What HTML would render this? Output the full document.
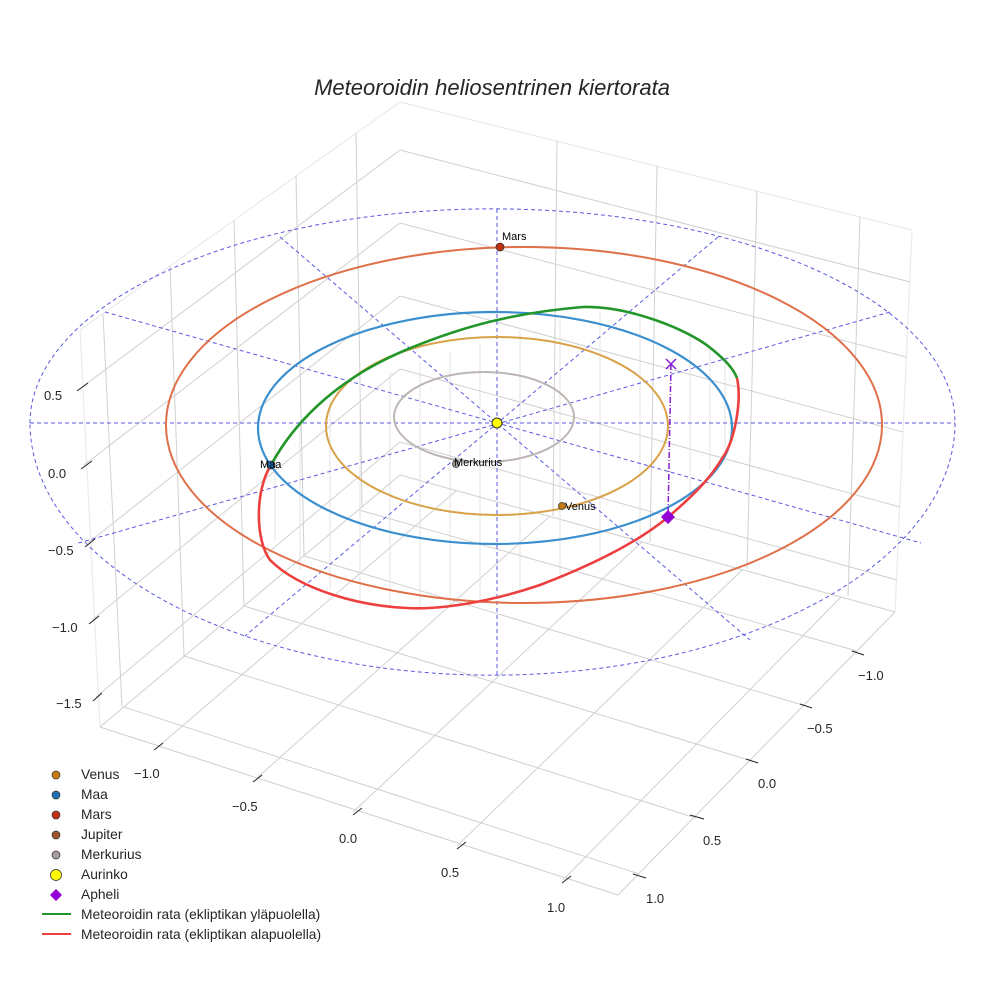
<!DOCTYPE html>
<html><head><meta charset="utf-8"><style>
html,body{margin:0;padding:0;background:#fff;}
svg{display:block;font-family:"Liberation Sans",sans-serif;}
</style></head><body>
<svg width="984" height="984" viewBox="0 0 984 984" xmlns="http://www.w3.org/2000/svg">
<rect width="984" height="984" fill="#fff"/>
<text x="492" y="95" text-anchor="middle" font-size="22" font-style="italic" fill="#262626">Meteoroidin heliosentrinen kiertorata</text>

<!-- pane edges -->
<g stroke="#ebebeb" stroke-width="1.2" fill="none">
<line x1="400" y1="102" x2="80" y2="330"/>
<line x1="400" y1="102" x2="912" y2="230"/>
<line x1="80" y1="330" x2="100" y2="727"/>
<line x1="912" y1="230" x2="895" y2="612"/>
</g>
<g stroke="#d2d2d2" stroke-width="1.1" fill="none">
<line x1="400" y1="475" x2="100" y2="727"/>
<line x1="400" y1="475" x2="895" y2="612"/>
<line x1="100" y1="727" x2="618" y2="895"/>
<line x1="618" y1="895" x2="895" y2="612"/>
</g>
<g stroke="#d0d0d0" stroke-width="1" fill="none">
<line x1="400" y1="150" x2="82" y2="387"/>
<line x1="400" y1="223" x2="84" y2="465"/>
<line x1="400" y1="296" x2="88" y2="543"/>
<line x1="400" y1="369" x2="92" y2="620"/>
<line x1="400" y1="442" x2="96" y2="697"/>
<line x1="400" y1="150" x2="910" y2="282"/>
<line x1="400" y1="223" x2="906" y2="357"/>
<line x1="400" y1="296" x2="903" y2="432"/>
<line x1="400" y1="369" x2="900" y2="507"/>
<line x1="400" y1="442" x2="897" y2="580"/>
<line x1="356" y1="134" x2="362" y2="507"/>
<line x1="296" y1="176" x2="304" y2="556"/>
<line x1="234" y1="220" x2="244" y2="606"/>
<line x1="170" y1="266" x2="184" y2="656"/>
<line x1="103" y1="314" x2="122" y2="707"/>
<line x1="557" y1="141" x2="553" y2="516"/>
<line x1="657" y1="166" x2="650" y2="542"/>
<line x1="757" y1="191" x2="747" y2="569"/>
<line x1="860" y1="217" x2="848" y2="596"/>
<line x1="159" y1="746" x2="456" y2="491"/>
<line x1="257" y1="778" x2="550" y2="516"/>
<line x1="353" y1="812" x2="642" y2="542"/>
<line x1="457" y1="846" x2="742" y2="570"/>
<line x1="563" y1="880" x2="841" y2="597"/>
<line x1="857" y1="651" x2="359" y2="510"/>
<line x1="806" y1="706" x2="304" y2="556"/>
<line x1="752" y1="761" x2="244" y2="606"/>
<line x1="696" y1="818" x2="184" y2="656"/>
<line x1="639" y1="874" x2="124" y2="707"/>
</g>

<g stroke="#dcdcdc" stroke-width="0.8">
<line x1="275" y1="440" x2="275" y2="540"/><line x1="300" y1="420" x2="300" y2="570"/>
<line x1="330" y1="400" x2="330" y2="590"/><line x1="360" y1="385" x2="360" y2="600"/>
<line x1="390" y1="372" x2="390" y2="606"/><line x1="420" y1="362" x2="420" y2="608"/>
<line x1="450" y1="352" x2="450" y2="606"/><line x1="480" y1="345" x2="480" y2="600"/>
<line x1="520" y1="330" x2="520" y2="592"/><line x1="560" y1="320" x2="560" y2="580"/>
<line x1="600" y1="312" x2="600" y2="562"/><line x1="640" y1="318" x2="640" y2="540"/>
<line x1="690" y1="336" x2="690" y2="495"/><line x1="710" y1="348" x2="710" y2="470"/>
<line x1="725" y1="360" x2="725" y2="450"/>
</g>

<g stroke="#5a5ae0" stroke-width="1" stroke-dasharray="4,3" fill="none">
<path d="M30 423 A462 214 0 0 1 955 423 A462 252 0 0 1 30 423"/>
<line x1="30" y1="423" x2="955" y2="423"/>
<line x1="497" y1="209" x2="497" y2="675"/>
<line x1="105" y1="312" x2="921" y2="543"/>
<line x1="890" y1="312" x2="75" y2="544"/>
<line x1="280" y1="237" x2="750" y2="640"/>
<line x1="718" y1="237" x2="245" y2="636"/>
</g>

<ellipse cx="484" cy="417" rx="90" ry="45" fill="none" stroke="#bdb6b2" stroke-width="2"/>
<ellipse cx="497" cy="426" rx="171" ry="89" fill="none" stroke="#d9a24a" stroke-width="2"/>
<ellipse cx="495" cy="428" rx="237" ry="116" fill="none" stroke="#3b8fcf" stroke-width="2.2"/>
<ellipse cx="524" cy="425" rx="358" ry="178" fill="none" stroke="#df7049" stroke-width="2"/>

<path d="M271 465 C290 430 330 380 413 347 C460 328 510 313 583 307 C630 306 690 330 713 350 C725 360 733 368 737 378" fill="none" stroke="#23962b" stroke-width="2.6"/>
<path d="M737 378 C742 400 735 440 723 457 C712 475 700 490 667 518 C640 540 600 562 540 585 C490 602 440 610 407 608 C360 606 300 590 270 560 C255 540 255 490 271 465" fill="none" stroke="#ee3f3f" stroke-width="2.6"/>

<line x1="671" y1="364" x2="668" y2="517" stroke="#8a1ed0" stroke-width="1.5" stroke-dasharray="6,2,1,2"/>
<path d="M666 359 l10 10 M676 359 l-10 10" stroke="#8a1ed0" stroke-width="1.5"/>
<path d="M668 510 l7 7 l-7 7 l-7 -7z" fill="#9400d3"/>

<circle cx="497" cy="423" r="5" fill="#ffff00" stroke="#333" stroke-width="1"/>
<circle cx="500" cy="247" r="4" fill="#c1300f" stroke="#333" stroke-width="0.8"/>
<text x="502" y="240" font-size="11">Mars</text>
<circle cx="271" cy="465" r="4" fill="#1f6fb4" stroke="#333" stroke-width="0.8"/>
<text x="260" y="468" font-size="11">Maa</text>
<circle cx="456" cy="464" r="3.5" fill="#a89f9a" stroke="#333" stroke-width="0.8"/>
<text x="454" y="466" font-size="11">Merkurius</text>
<circle cx="562" cy="506" r="3.5" fill="#c77a10" stroke="#333" stroke-width="0.8"/>
<text x="565" y="510" font-size="11">Venus</text>

<g stroke="#222" stroke-width="1">
<line x1="77" y1="391" x2="88" y2="383"/><line x1="81" y1="469" x2="92" y2="461"/>
<line x1="85" y1="547" x2="95" y2="539"/><line x1="89" y1="624" x2="99" y2="616"/>
<line x1="93" y1="701" x2="102" y2="693"/>
<line x1="154" y1="750" x2="163" y2="743"/><line x1="253" y1="782" x2="262" y2="775"/>
<line x1="353" y1="815" x2="362" y2="808"/><line x1="457" y1="849" x2="466" y2="842"/>
<line x1="562" y1="883" x2="571" y2="876"/>
<line x1="852" y1="651" x2="864" y2="655"/><line x1="800" y1="704" x2="812" y2="708"/>
<line x1="746" y1="759" x2="758" y2="763"/><line x1="690" y1="815" x2="704" y2="819"/>
<line x1="633" y1="874" x2="646" y2="878"/>
</g>
<g font-size="13" fill="#262626">
<text x="44" y="400">0.5</text><text x="48" y="478">0.0</text>
<text x="48" y="555">−0.5</text><text x="52" y="632">−1.0</text><text x="56" y="708">−1.5</text>
<text x="134" y="778">−1.0</text><text x="232" y="811">−0.5</text>
<text x="339" y="843">0.0</text><text x="441" y="877">0.5</text><text x="547" y="912">1.0</text>
<text x="858" y="680">−1.0</text><text x="807" y="733">−0.5</text>
<text x="758" y="788">0.0</text><text x="703" y="845">0.5</text><text x="646" y="903">1.0</text>
</g>

<g font-size="13.8" fill="#262626">
<circle cx="56" cy="775" r="4" fill="#c77a10" stroke="#333" stroke-width="0.7"/><text x="81" y="779">Venus</text>
<circle cx="56" cy="795" r="4" fill="#1f6fb4" stroke="#333" stroke-width="0.7"/><text x="81" y="799">Maa</text>
<circle cx="56" cy="815" r="4" fill="#c1300f" stroke="#333" stroke-width="0.7"/><text x="81" y="819">Mars</text>
<circle cx="56" cy="835" r="4" fill="#a0522d" stroke="#333" stroke-width="0.7"/><text x="81" y="839">Jupiter</text>
<circle cx="56" cy="855" r="4" fill="#a89f9a" stroke="#333" stroke-width="0.7"/><text x="81" y="859">Merkurius</text>
<circle cx="56" cy="875" r="5.5" fill="#ffff00" stroke="#333" stroke-width="0.8"/><text x="81" y="879">Aurinko</text>
<path d="M56 889 l6 6 l-6 6 l-6 -6z" fill="#9400d3"/><text x="81" y="899">Apheli</text>
<line x1="42" y1="914" x2="71" y2="914" stroke="#23962b" stroke-width="2"/><text x="81" y="919">Meteoroidin rata (ekliptikan yläpuolella)</text>
<line x1="42" y1="934" x2="71" y2="934" stroke="#ee3f3f" stroke-width="2"/><text x="81" y="939">Meteoroidin rata (ekliptikan alapuolella)</text>
</g>
</svg>
</body></html>
